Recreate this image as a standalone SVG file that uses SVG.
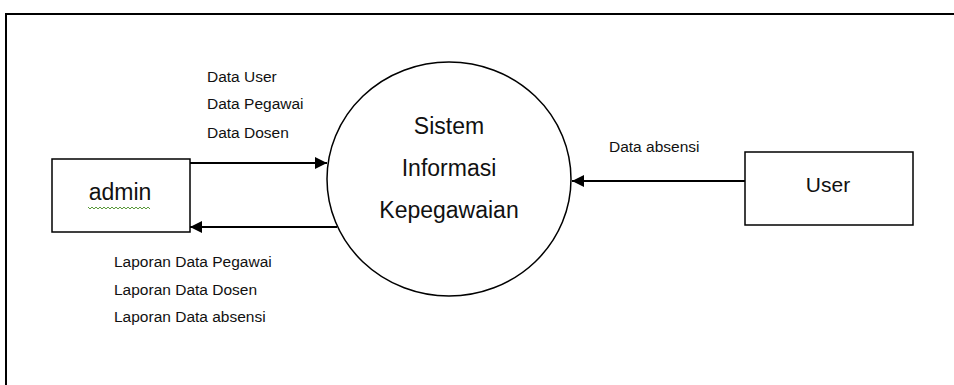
<svg xmlns="http://www.w3.org/2000/svg" width="954" height="385" viewBox="0 0 954 385">
<style>
.box{fill:#fff;stroke:#000;stroke-width:1.5}
.lbl{font-family:"Liberation Sans",Arial,sans-serif;font-size:15.5px;fill:#111}
.big{font-family:"Liberation Sans",Arial,sans-serif;font-size:23px;fill:#111;text-anchor:middle}
.flow{stroke:#000;stroke-width:2;fill:none;marker-end:url(#ah)}
</style>
<defs>
<marker id="ah" markerUnits="userSpaceOnUse" markerWidth="13" markerHeight="12" refX="12" refY="6" orient="auto">
<path d="M0,0 L12,6 L0,12 Z" fill="#000"/>
</marker>
</defs>
<rect width="954" height="385" fill="#fff"/>
<path d="M6,386 V14 H956" fill="none" stroke="#000" stroke-width="2"/>
<g id="admin">
<rect class="box" x="52" y="159" width="138" height="73"/>
<text class="big" x="120" y="200">admin</text>
<path d="M88,207 l2,2 l2,-2 l2,2 l2,-2 l2,2 l2,-2 l2,2 l2,-2 l2,2 l2,-2 l2,2 l2,-2 l2,2 l2,-2 l2,2 l2,-2 l2,2 l2,-2 l2,2 l2,-2 l2,2 l2,-2 l2,2 l2,-2 l2,2 l2,-2 l2,2 l2,-2 l2,2 l2,-2 l2,2" fill="none" stroke="#5a9a3a" stroke-width="1"/>
</g>
<g id="sistem">
<ellipse class="box" cx="449" cy="179" rx="122" ry="117"/>
<text class="big" x="449" y="134">Sistem</text>
<text class="big" x="449" y="176">Informasi</text>
<text class="big" x="449" y="218">Kepegawaian</text>
</g>
<g id="user">
<rect class="box" x="745" y="152" width="168" height="73"/>
<text class="big" x="828" y="192" style="font-size:21px">User</text>
</g>
<g id="connectors">
<path class="flow" d="M190,163 H327"/>
<path class="flow" d="M337,227 H190"/>
<path class="flow" d="M745,181 H572"/>
<text class="lbl" x="207" y="82">Data User</text>
<text class="lbl" x="207" y="109">Data Pegawai</text>
<text class="lbl" x="207" y="138">Data Dosen</text>
<text class="lbl" x="114" y="267">Laporan Data Pegawai</text>
<text class="lbl" x="114" y="295">Laporan Data Dosen</text>
<text class="lbl" x="114" y="322">Laporan Data absensi</text>
<text class="lbl" x="609" y="152">Data absensi</text>
</g>
</svg>
